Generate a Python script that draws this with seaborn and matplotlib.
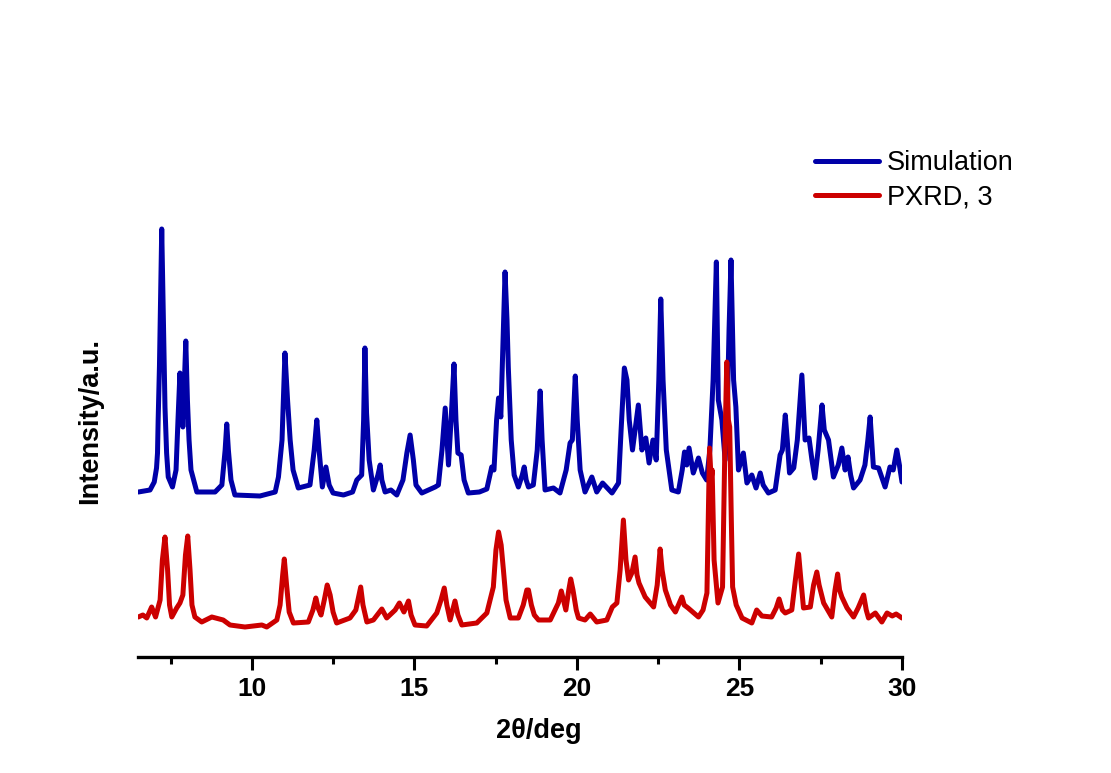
import numpy as np
import pandas as pd
import matplotlib
matplotlib.use("Agg")
import matplotlib.pyplot as plt
from matplotlib.ticker import MultipleLocator
import seaborn as sns

# simulated pattern (2theta, intensity a.u. incl. stacking offset)
sim_2theta = [6.51, 6.87, 7.00, 7.07, 7.10, 7.12, 7.16, 7.23, 7.27, 7.33, 7.38, 7.43, 7.56,
              7.67, 7.73, 7.79, 7.88, 7.97, 8.02, 8.07, 8.13, 8.31, 8.87, 9.08, 9.18,
              9.23, 9.28, 9.36, 9.48, 10.25, 10.72, 10.82, 10.93, 11.02, 11.10, 11.18,
              11.27, 11.43, 11.79, 11.92, 12.00, 12.07, 12.17, 12.28, 12.38, 12.50,
              12.82, 13.10, 13.23, 13.38, 13.44, 13.48, 13.53, 13.61, 13.74, 13.88, 13.95,
              14.00, 14.10, 14.28, 14.46, 14.65, 14.77, 14.87, 14.97, 15.05, 15.23,
              15.64, 15.74, 15.85, 15.95, 16.05, 16.13, 16.22, 16.28, 16.34, 16.44,
              16.53, 16.66, 17.00, 17.23, 17.38, 17.45, 17.53, 17.59, 17.66, 17.73, 17.79,
              17.85, 17.89, 17.98, 18.07, 18.20, 18.32, 18.38, 18.44, 18.51, 18.66,
              18.78, 18.87, 18.93, 19.02, 19.28, 19.48, 19.67, 19.79, 19.86, 19.95,
              20.01, 20.10, 20.25, 20.46, 20.61, 20.79, 21.08, 21.28, 21.36, 21.46,
              21.54, 21.61, 21.71, 21.79, 21.89, 22.00, 22.12, 22.22, 22.34, 22.44,
              22.52, 22.58, 22.65, 22.75, 22.92, 23.12, 23.24, 23.31, 23.38, 23.45,
              23.58, 23.74, 23.86, 23.99, 24.09, 24.19, 24.29, 24.35, 24.46, 24.56,
              24.62, 24.68, 24.74, 24.82, 24.89, 24.97, 25.12, 25.23, 25.38, 25.51,
              25.64, 25.73, 25.89, 26.10, 26.25, 26.32, 26.41, 26.47, 26.54, 26.67,
              26.78, 26.92, 26.99, 27.02, 27.14, 27.23, 27.32, 27.42, 27.54, 27.61,
              27.74, 27.89, 28.04, 28.15, 28.25, 28.34, 28.42, 28.51, 28.71, 28.86,
              28.95, 29.02, 29.12, 29.28, 29.48, 29.63, 29.73, 29.84, 29.92, 30.00]
sim_int = [172, 174, 182, 196, 211, 244, 298, 435, 364, 257, 211, 187, 177,
           194, 244, 291, 237, 323, 264, 224, 194, 172, 172, 179, 214,
           240, 214, 184, 169, 168, 172, 187, 224, 311, 264, 224,
           194, 176, 179, 214, 244, 214, 177, 197, 179, 171,
           169, 172, 184, 189, 244, 316, 251, 204, 174, 189, 199,
           184, 172, 174, 169, 184, 211, 229, 204, 179, 171,
           177, 179, 214, 256, 199, 244, 300, 244, 211, 209,
           184, 171, 172, 175, 197, 194, 244, 266, 247, 324, 392,
           344, 297, 224, 189, 177, 189, 197, 184, 177, 179,
           214, 273, 224, 174, 176, 171, 194, 221, 224, 288,
           244, 194, 172, 187, 172, 181, 171, 181, 234, 296,
           284, 244, 214, 234, 259, 214, 226, 201, 224, 204,
           284, 365, 284, 214, 174, 172, 194, 212, 199, 216,
           191, 206, 191, 184, 214, 284, 402, 264, 244, 204,
           244, 334, 404, 284, 257, 194, 211, 181, 189, 176,
           191, 179, 171, 174, 209, 214, 249, 224, 191, 196,
           224, 289, 244, 224, 226, 204, 186, 214, 259, 234,
           224, 187, 199, 216, 194, 207, 189, 176, 184, 199,
           224, 247, 197, 196, 177, 197, 194, 214, 199, 182]

# measured PXRD of 3
pxrd_2theta = [6.51, 6.65, 6.77, 6.92, 7.04, 7.18, 7.25, 7.33, 7.41, 7.47, 7.54, 7.69,
               7.79, 7.88, 7.96, 8.03, 8.10, 8.16, 8.25, 8.46, 8.77, 9.12, 9.33, 9.79,
               10.31, 10.46, 10.77, 10.87, 10.95, 11.00, 11.07, 11.15, 11.28, 11.74,
               11.88, 11.97, 12.04, 12.13, 12.23, 12.32, 12.41, 12.50, 12.61, 13.02,
               13.20, 13.35, 13.42, 13.54, 13.74, 14.00, 14.15, 14.41, 14.54, 14.68,
               14.82, 14.90, 15.02, 15.38, 15.69, 15.82, 15.92, 16.00, 16.10, 16.25,
               16.34, 16.46, 16.92, 17.23, 17.43, 17.51, 17.59, 17.67, 17.74, 17.82,
               17.95, 18.20, 18.35, 18.46, 18.51, 18.60, 18.69, 18.82, 19.18, 19.43,
               19.52, 19.66, 19.75, 19.81, 19.88, 19.98, 20.05, 20.25, 20.41, 20.61,
               20.92, 21.09, 21.23, 21.33, 21.43, 21.51, 21.59, 21.69, 21.79, 21.85,
               21.91, 22.10, 22.36, 22.47, 22.56, 22.62, 22.72, 22.88, 23.03, 23.23,
               23.30, 23.42, 23.74, 23.88, 24.00, 24.04, 24.08, 24.13, 24.16, 24.22,
               24.34, 24.48, 24.55, 24.61, 24.66, 24.70, 24.75, 24.79, 24.90, 25.08,
               25.38, 25.53, 25.69, 25.99, 26.13, 26.22, 26.32, 26.41, 26.61, 26.72,
               26.82, 26.89, 26.97, 27.18, 27.28, 27.38, 27.45, 27.59, 27.84, 27.94,
               28.02, 28.08, 28.15, 28.31, 28.51, 28.65, 28.82, 28.90, 28.97, 29.18,
               29.38, 29.54, 29.70, 29.82, 30.00]
pxrd_int = [47, 49, 46, 57, 47, 64, 104, 127, 94, 59, 47, 56,
            61, 69, 109, 128, 94, 59, 47, 42, 47, 44, 39, 37,
            39, 37, 44, 59, 89, 105, 79, 52, 41, 42,
            54, 66, 56, 49, 64, 79, 69, 52, 41, 46,
            54, 77, 59, 42, 44, 55, 46, 54, 61, 52,
            63, 49, 39, 38, 51, 64, 76, 59, 44, 63,
            49, 39, 41, 51, 77, 114, 132, 119, 94, 64,
            46, 46, 59, 74, 74, 59, 49, 44, 44, 61,
            73, 54, 74, 85, 74, 54, 46, 44, 50, 42,
            44, 57, 61, 94, 144, 104, 84, 91, 107, 89,
            81, 67, 57, 79, 115, 94, 74, 59, 52, 67,
            59, 56, 47, 54, 71, 144, 216, 184, 194, 104,
            61, 77, 214, 302, 244, 237, 144, 77, 59, 46,
            41, 54, 48, 47, 56, 65, 54, 51, 54, 84,
            110, 84, 56, 57, 79, 92, 79, 61, 47, 74,
            90, 74, 67, 56, 47, 56, 69, 54, 46, 51,
            42, 51, 48, 50, 46]

labels = ["Simulation", "PXRD, 3"]
colors = {"Simulation": "#0000A8", "PXRD, 3": "#CC0000"}

df = pd.concat([
    pd.DataFrame({"2theta": sim_2theta, "I": sim_int, "series": labels[0]}),
    pd.DataFrame({"2theta": pxrd_2theta, "I": pxrd_int, "series": labels[1]}),
])

sns.set_style("ticks", {"text.color": "black", "axes.labelcolor": "black",
                        "xtick.color": "black", "axes.edgecolor": "black"})
plt.rcParams["font.family"] = ["Liberation Sans", "DejaVu Sans"]

fig = plt.figure(figsize=(11.11, 7.73), dpi=100)
ax = fig.add_axes([138 / 1111, 1 - 657 / 773, 764 / 1111, 557 / 773])

sns.lineplot(data=df, x="2theta", y="I", hue="series", palette=colors,
             hue_order=labels, estimator=None, sort=False, linewidth=3.6,
             legend=False, ax=ax)
for ln in ax.lines:
    ln.set_solid_joinstyle("round")

ax.set_xlim(6.5, 30)
ax.set_ylim(7, 564)
ax.xaxis.set_major_locator(MultipleLocator(5))
ax.xaxis.set_minor_locator(MultipleLocator(2.5))
ax.set_yticks([])
for s in ["top", "right", "left"]:
    ax.spines[s].set_visible(False)
ax.spines["bottom"].set_linewidth(2.4)
ax.tick_params(axis="x", which="major", length=9.5, width=2.2, pad=5,
               labelsize=19, direction="out", colors="black")
ax.tick_params(axis="x", which="minor", length=5, width=2.2, direction="out")
for t in ax.get_xticklabels():
    t.set_fontweight("bold")

ax.set_xlabel("2θ/deg", fontsize=19.5, fontweight="bold", color="black")
ax.xaxis.set_label_coords(0.524, -0.11)
ax.set_ylabel("Intensity/a.u.", fontsize=19.5, fontweight="bold", color="black")
ax.yaxis.set_label_coords(-0.046, 0.424)

ax.legend(ax.lines, labels, loc="upper left",
          bbox_to_anchor=(815 / 1111, 1 - 150 / 773), bbox_transform=fig.transFigure,
          frameon=False, fontsize=19.5, handlelength=2.35, handletextpad=0.3,
          labelspacing=0.33, borderpad=0, borderaxespad=0)
for h in ax.get_legend().legend_handles:
    h.set_linewidth(3.6)

fig.savefig("out.png", dpi=100, facecolor="white")
